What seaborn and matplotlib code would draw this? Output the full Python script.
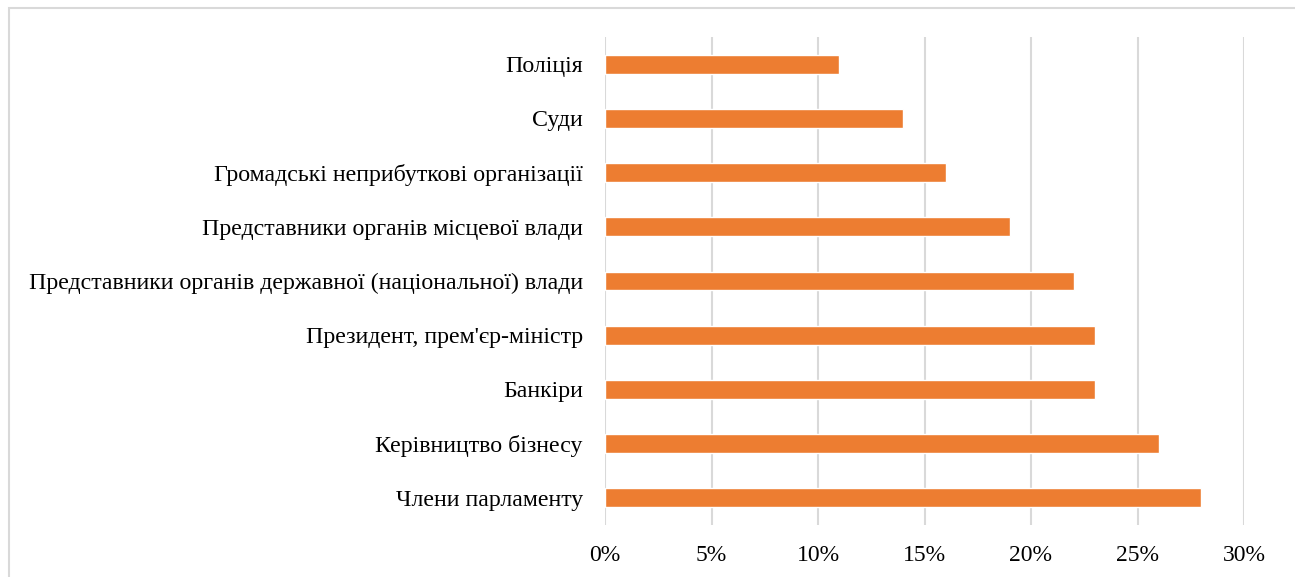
import matplotlib
matplotlib.use("Agg")
import matplotlib.pyplot as plt
import seaborn as sns
import pandas as pd
from matplotlib.patches import Rectangle
from matplotlib.ticker import FuncFormatter

categories = [
    "Поліція",
    "Суди",
    "Громадські неприбуткові організації",
    "Представники органів місцевої влади",
    "Представники органів державної (національної) влади",
    "Президент, прем'єр-міністр",
    "Банкіри",
    "Керівництво бізнесу",
    "Члени парламенту",
]
values = [11, 14, 16, 19, 22, 23, 23, 26, 28]
xticks = [0, 5, 10, 15, 20, 25, 30]

sns.set_theme(style="white")
plt.rcParams['font.family'] = ['Liberation Serif', 'DejaVu Serif']

df = pd.DataFrame({"cat": categories, "val": values})

fig = plt.figure(figsize=(12.95, 5.77), dpi=100)
ax = fig.add_axes([605/1295, 1-525/577, (1244-605)/1295, (525-37)/577])

sns.barplot(data=df, x="val", y="cat", orient="h", color="#ED7D31",
            saturation=1, width=0.35, ax=ax, order=categories)

ax.set_xlim(0, 30)
ax.set_ylim(len(categories) - 0.5, -0.5)
ax.set_xticks(xticks)
ax.xaxis.set_major_formatter(FuncFormatter(lambda v, p: f"{int(v)}%"))
ax.grid(axis="x", color="#d9d9d9", linewidth=1.5)
ax.set_axisbelow(True)
for s in ax.spines.values():
    s.set_visible(False)
ax.set_xlabel("")
ax.set_ylabel("")
ax.tick_params(axis="y", length=0, pad=16, labelsize=17.2, labelcolor="#000000")
ax.tick_params(axis="x", length=0, pad=14.5, labelsize=17, labelcolor="#000000")

fig.patches.append(Rectangle((9/1295, -0.1), 1.2, 1 - 8/577 + 0.1,
                             transform=fig.transFigure, fill=False,
                             edgecolor="#d9d9d9", linewidth=1.5))

fig.savefig("out.png", dpi=100, facecolor="white")
